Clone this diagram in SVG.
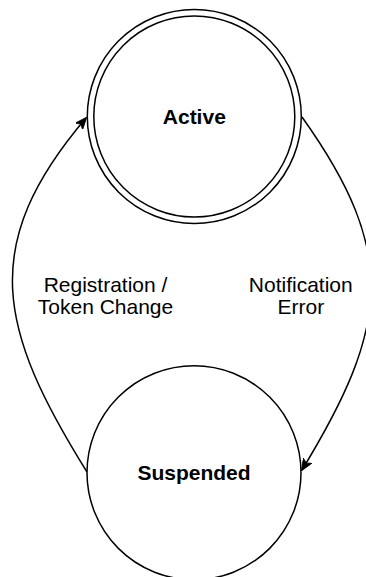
<svg xmlns="http://www.w3.org/2000/svg" width="366" height="577" viewBox="0 0 366 577">
  <style>
    .state { fill: #ffffff; stroke: #000000; stroke-width: 1.5; }
    .edge { fill: none; stroke: #000000; stroke-width: 1.5; }
    .name { font-family: "Liberation Sans", Arial, sans-serif; font-size: 21px; font-weight: bold; fill: #000000; text-anchor: middle; }
    .label { font-family: "Liberation Sans", Arial, sans-serif; font-size: 21px; fill: #000000; text-anchor: middle; }
  </style>
  <defs>
    <marker id="arrow" viewBox="0 0 12 10" refX="11" refY="5" markerWidth="12" markerHeight="10" markerUnits="userSpaceOnUse" orient="auto">
      <path d="M0,0 L12,5 L0,10 L3,5 Z" fill="#000000" stroke="#000000" stroke-width="0.8"/>
    </marker>
  </defs>
  <rect width="366" height="577" fill="#ffffff"/>
  <g id="connectors">
    <path class="edge" d="M302,117 C399,253 389,327 302,470" marker-end="url(#arrow)"/>
    <path class="edge" d="M87,472 C-2,329 -22,245 86,118" marker-end="url(#arrow)"/>
  </g>
  <g id="active">
    <circle class="state" cx="194.3" cy="116.5" r="107"/>
    <circle class="state" cx="194.3" cy="116.5" r="100.5"/>
    <text class="name" x="194.3" y="124">Active</text>
  </g>
  <g id="suspended">
    <circle class="state" cx="194" cy="472.7" r="107"/>
    <text class="name" x="194" y="480">Suspended</text>
  </g>
  <g id="label-registration">
    <text class="label" x="105.5" y="291.5">Registration /</text>
    <text class="label" x="105.5" y="313.5">Token Change</text>
  </g>
  <g id="label-notification">
    <text class="label" x="300.8" y="291.5">Notification</text>
    <text class="label" x="300.8" y="313.5">Error</text>
  </g>
</svg>
